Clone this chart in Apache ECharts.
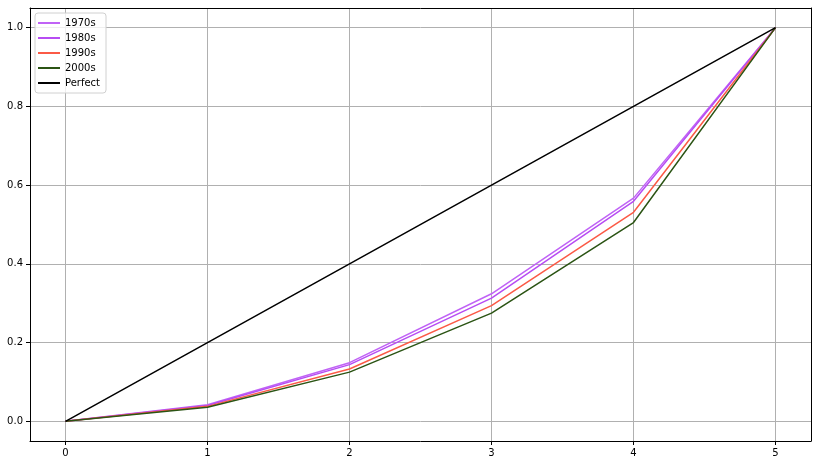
<!DOCTYPE html>
<html>
<head>
<meta charset="utf-8">
<script src="https://cdn.jsdelivr.net/npm/echarts@6/dist/echarts.min.js"></script>
<style>
  html, body { margin: 0; padding: 0; background: #fff; }
  #chart { width: 818px; height: 466px; }
</style>
</head>
<body>
<div id="chart"></div>
<script>
// values
var xs = [0, 1, 2, 3, 4, 5];
var s1970 = [0, 0.042, 0.149, 0.324, 0.567, 1.0];
var s1980 = [0, 0.040, 0.144, 0.313, 0.559, 1.0];
var s1990 = [0, 0.038, 0.133, 0.294, 0.531, 1.0];
var s2000 = [0, 0.036, 0.125, 0.275, 0.505, 1.0];
var perfect = [0, 0.2, 0.4, 0.6, 0.8, 1.0];
var xTicks = [0, 1, 2, 3, 4, 5];
var yTicks = [0, 0.2, 0.4, 0.6, 0.8, 1.0];

var names = ['1970s', '1980s', '1990s', '2000s', 'Perfect'];
var colors = ['#c063f6', '#b74cf3', '#fb5a46', '#2b5414', '#000000'];
var series = [s1970, s1980, s1990, s2000, perfect];

var font = 'DejaVu Sans';
var chart = echarts.init(document.getElementById('chart'));

var option = {
    animation: false,
    backgroundColor: '#fff',
    textStyle: { fontFamily: font },
    grid: { left: 30, right: 7, top: 8, bottom: 25, containLabel: false },
    legend: {
        orient: 'vertical',
        left: 35,
        top: 13,
        data: names,
        icon: 'rect',
        itemWidth: 22,
        itemHeight: 2,
        itemGap: 3,
        padding: [4, 6, 4, 3],
        borderColor: '#d0d0d0',
        borderWidth: 1,
        borderRadius: 3,
        backgroundColor: 'rgba(255,255,255,0.8)',
        textStyle: { fontFamily: font, fontSize: 10, color: '#000', lineHeight: 12 }
    },
    xAxis: [{
        type: 'value',
        min: -0.25,
        max: 5.25,
        axisLine: { onZero: false, lineStyle: { color: '#000', width: 1 } },
        axisTick: { show: true, length: 4, lineStyle: { color: '#000' }, customValues: xTicks },
        axisLabel: { color: '#000', fontSize: 10, fontFamily: font, margin: 7, customValues: xTicks,
            formatter: function (v) { return String(v); } },
        splitLine: { show: true, lineStyle: { color: '#b0b0b0', width: 1 } }
    }, {
        type: 'value',
        position: 'top',
        min: -0.25,
        max: 5.25,
        axisLine: { show: true, onZero: false, lineStyle: { color: '#000', width: 1 } },
        axisTick: { show: false },
        axisLabel: { show: false },
        splitLine: { show: false }
    }],
    yAxis: [{
        type: 'value',
        min: -0.05,
        max: 1.05,
        axisLine: { show: true, onZero: false, lineStyle: { color: '#000', width: 1 } },
        axisTick: { show: true, length: 4, lineStyle: { color: '#000' }, customValues: yTicks },
        axisLabel: { color: '#000', fontSize: 10, fontFamily: font, margin: 7, customValues: yTicks,
            formatter: function (v) { return v.toFixed(1); } },
        splitLine: { show: true, lineStyle: { color: '#b0b0b0', width: 1 } }
    }, {
        type: 'value',
        position: 'right',
        min: -0.05,
        max: 1.05,
        axisLine: { show: true, onZero: false, lineStyle: { color: '#000', width: 1 } },
        axisTick: { show: false },
        axisLabel: { show: false },
        splitLine: { show: false }
    }],
    series: series.map(function (vals, k) {
        return {
            name: names[k],
            type: 'line',
            data: xs.map(function (x, i) { return [x, vals[i]]; }),
            color: colors[k],
            lineStyle: { width: 1.5, color: colors[k] },
            showSymbol: false,
            symbol: 'none',
            z: 2 + k
        };
    })
};

chart.setOption(option);
</script>
</body>
</html>
